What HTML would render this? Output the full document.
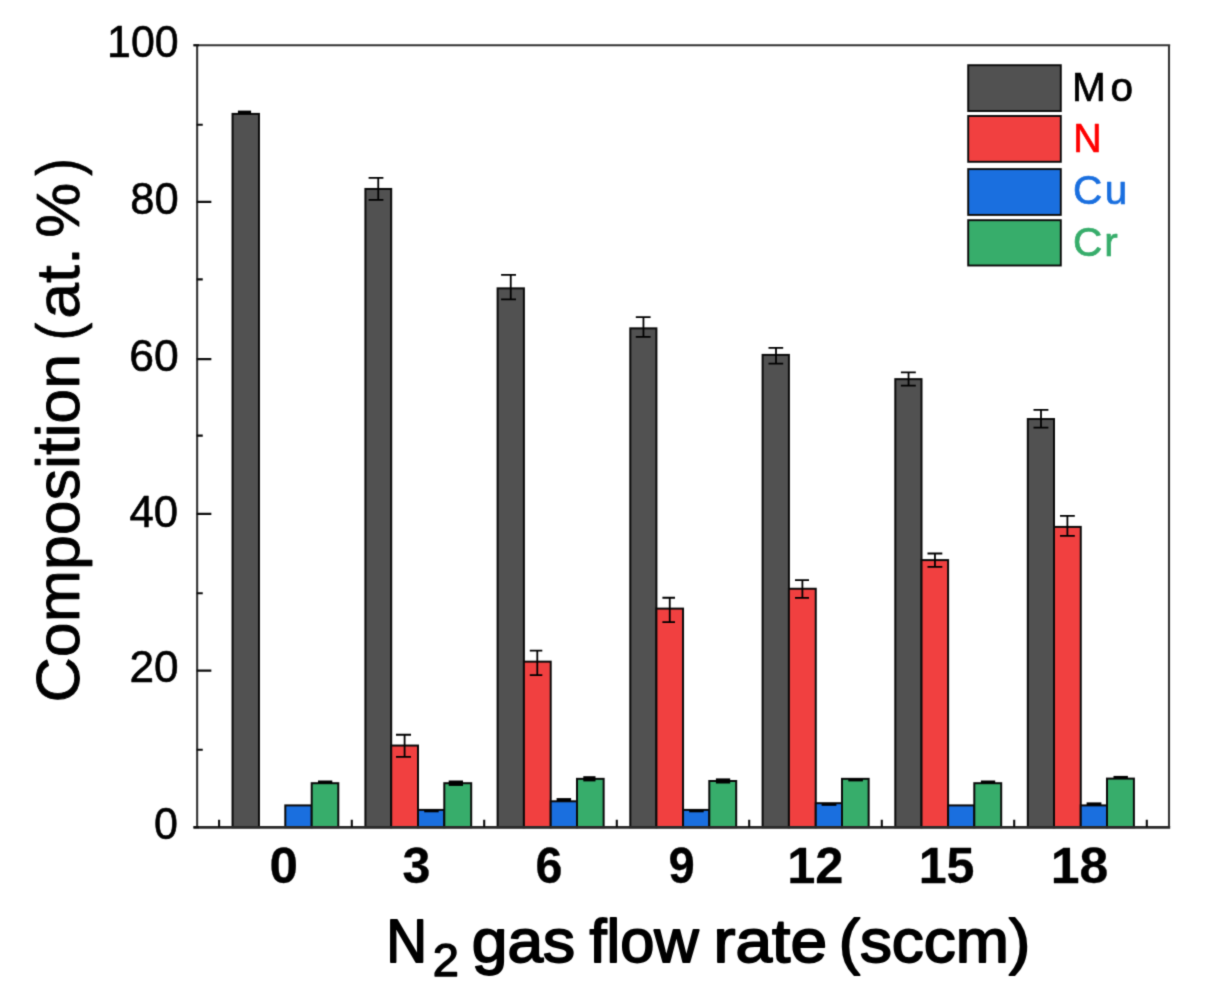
<!DOCTYPE html>
<html lang="en"><head><meta charset="utf-8"><title>Composition vs N2 gas flow rate</title>
<style>html,body{margin:0;padding:0;background:#fff}body{width:1205px;height:1003px;overflow:hidden}svg{display:block}text{font-family:"Liberation Sans",Arial,sans-serif;stroke-linejoin:round}</style></head><body>
<svg width="1205" height="1003" viewBox="0 0 1205 1003">
<defs><filter id="soft" x="0" y="0" width="1205" height="1003" filterUnits="userSpaceOnUse" color-interpolation-filters="sRGB"><feConvolveMatrix order="3" kernelMatrix="0.0225 0.1050 0.0225 0.1050 0.4900 0.1050 0.0225 0.1050 0.0225" edgeMode="none"/></filter></defs>
<rect width="1205" height="1003" fill="#fff"/>
<g id="chart" filter="url(#soft)">
<g stroke="#0a0a0a" stroke-width="2">
<rect x="232.55" y="113.90" width="26.40" height="713.30" fill="#515151"/>
<rect x="285.30" y="805.40" width="26.40" height="21.80" fill="#1A6FDF"/>
<rect x="311.70" y="783.20" width="26.60" height="44.00" fill="#37AD6B"/>
<rect x="365.40" y="188.95" width="25.80" height="638.25" fill="#515151"/>
<rect x="391.20" y="745.55" width="26.80" height="81.65" fill="#F14040"/>
<rect x="418.00" y="809.90" width="26.30" height="17.30" fill="#1A6FDF"/>
<rect x="444.30" y="783.20" width="26.90" height="44.00" fill="#37AD6B"/>
<rect x="497.60" y="288.35" width="26.30" height="538.85" fill="#515151"/>
<rect x="523.90" y="661.65" width="26.80" height="165.55" fill="#F14040"/>
<rect x="550.70" y="801.30" width="26.30" height="25.90" fill="#1A6FDF"/>
<rect x="577.00" y="778.85" width="26.65" height="48.35" fill="#37AD6B"/>
<rect x="630.30" y="328.35" width="26.10" height="498.85" fill="#515151"/>
<rect x="656.40" y="608.60" width="26.65" height="218.60" fill="#F14040"/>
<rect x="683.05" y="809.90" width="26.25" height="17.30" fill="#1A6FDF"/>
<rect x="709.30" y="781.00" width="26.90" height="46.20" fill="#37AD6B"/>
<rect x="762.60" y="354.90" width="26.30" height="472.30" fill="#515151"/>
<rect x="788.90" y="588.75" width="26.85" height="238.45" fill="#F14040"/>
<rect x="815.75" y="803.20" width="26.25" height="24.00" fill="#1A6FDF"/>
<rect x="842.00" y="778.85" width="26.65" height="48.35" fill="#37AD6B"/>
<rect x="895.30" y="379.15" width="26.20" height="448.05" fill="#515151"/>
<rect x="921.50" y="560.10" width="26.60" height="267.10" fill="#F14040"/>
<rect x="948.10" y="805.40" width="26.20" height="21.80" fill="#1A6FDF"/>
<rect x="974.30" y="783.20" width="26.90" height="44.00" fill="#37AD6B"/>
<rect x="1027.80" y="419.05" width="26.20" height="408.15" fill="#515151"/>
<rect x="1054.00" y="526.90" width="26.75" height="300.30" fill="#F14040"/>
<rect x="1080.75" y="805.40" width="26.25" height="21.80" fill="#1A6FDF"/>
<rect x="1107.00" y="778.60" width="26.90" height="48.60" fill="#37AD6B"/>
</g>
<g stroke="#000" stroke-width="1.8" fill="none">
<path d="M368.60 177.85H383.40M368.60 199.95H383.40M378.25 177.85V199.95"/>
<path d="M501.10 274.95H516.00M501.10 299.35H516.00M510.75 274.95V299.35"/>
<path d="M635.80 317.05H650.60M635.80 336.95H650.60M643.45 317.05V336.95"/>
<path d="M768.50 347.95H783.20M768.50 363.55H783.20M776.00 347.95V363.55"/>
<path d="M900.90 372.30H915.80M900.90 385.60H915.80M908.55 372.30V385.60"/>
<path d="M1033.50 409.85H1048.40M1033.50 427.55H1048.40M1041.00 409.85V427.55"/>
<path d="M396.00 734.75H411.00M396.00 756.85H411.00M404.60 734.75V756.85"/>
<path d="M529.80 650.70H542.30M529.80 675.20H542.30M537.30 650.70V675.20"/>
<path d="M662.40 597.75H675.00M662.40 622.10H675.00M669.75 597.75V622.10"/>
<path d="M795.00 580.05H809.00M795.00 597.80H809.00M802.40 580.05V597.80"/>
<path d="M927.50 553.50H942.30M927.50 566.90H942.30M934.95 553.50V566.90"/>
<path d="M1060.00 515.85H1074.80M1060.00 535.90H1074.80M1067.40 515.85V535.90"/>
</g>
<g fill="#000">
<rect x="237.90" y="110.60" width="13.20" height="3.70"/>
<rect x="424.20" y="810.10" width="14.50" height="2.20"/>
<rect x="556.60" y="798.10" width="14.50" height="3.00"/>
<rect x="689.20" y="810.10" width="14.50" height="2.20"/>
<rect x="821.60" y="803.40" width="14.80" height="2.40"/>
<rect x="1086.60" y="802.40" width="14.80" height="2.80"/>
<rect x="318.00" y="780.50" width="14.30" height="2.80"/>
<rect x="448.70" y="780.50" width="14.30" height="5.40"/>
<rect x="583.30" y="776.20" width="12.20" height="5.20"/>
<rect x="715.90" y="778.40" width="14.30" height="5.10"/>
<rect x="848.30" y="779.00" width="14.60" height="2.40"/>
<rect x="980.90" y="780.50" width="14.30" height="2.80"/>
<rect x="1113.50" y="775.90" width="14.40" height="2.80"/>
</g>
<g stroke="#333" stroke-width="2.1" fill="none">
<path d="M193.5 45.20H1170.2M197.15 45.20V827.20M1169.00 45.20V827.20"/>
<path stroke="#2a2a2a" stroke-width="2.7" d="M193.5 827.30H1170.2"/>
</g>
<g stroke="#0c0c0c" stroke-width="2.1" fill="none">
<path d="M193.5 45.20H199M193.5 827.20H199M196.65 124.70h6.1M196.65 201.90h14.7M196.65 279.35h6.1M196.65 359.10h14.7M196.65 435.60h6.1M196.65 513.90h14.7M196.65 593.20h6.1M196.65 670.60h14.7M196.65 749.80h6.1"/>
<path d="M219.10 827.20v-7.4M351.80 827.20v-7.4M484.20 827.20v-7.4M616.80 827.20v-7.4M749.20 827.20v-7.4M881.80 827.20v-7.4M1014.20 827.20v-7.4M1146.80 827.20v-7.4"/>
</g>
<g stroke="#0a0a0a" stroke-width="1.9">
<rect x="968.2" y="65.2" width="92.6" height="45.8" fill="#515151"/>
<rect x="968.2" y="116.0" width="92.6" height="45.8" fill="#F14040"/>
<rect x="968.2" y="169.1" width="92.6" height="45.8" fill="#1A6FDF"/>
<rect x="968.2" y="220.2" width="92.6" height="45.3" fill="#37AD6B"/>
</g>
<text transform="translate(107.08,56.60) scale(0.9747,1)" font-size="44" fill="#000" stroke="#000" stroke-width="0.60">100</text>
<text transform="translate(130.21,214.00) scale(0.9899,1)" font-size="44" fill="#000" stroke="#000" stroke-width="0.60">80</text>
<text transform="translate(129.18,370.60) scale(1.0116,1)" font-size="44" fill="#000" stroke="#000" stroke-width="0.60">60</text>
<text transform="translate(129.51,527.20) scale(0.9942,1)" font-size="44" fill="#000" stroke="#000" stroke-width="0.60">40</text>
<text transform="translate(129.49,682.20) scale(1.0050,1)" font-size="44" fill="#000" stroke="#000" stroke-width="0.60">20</text>
<text transform="translate(154.12,838.90) scale(0.9773,1)" font-size="44" fill="#000" stroke="#000" stroke-width="0.60">0</text>
<text transform="translate(269.43,883.00) scale(1.0240,1)" font-size="50" font-weight="bold" fill="#000" stroke="#000" stroke-width="0.30">0</text>
<text transform="translate(402.45,883.00) scale(1.0040,1)" font-size="50" font-weight="bold" fill="#000" stroke="#000" stroke-width="0.30">3</text>
<text transform="translate(535.48,883.00) scale(0.9680,1)" font-size="50" font-weight="bold" fill="#000" stroke="#000" stroke-width="0.30">6</text>
<text transform="translate(668.41,883.00) scale(0.9440,1)" font-size="50" font-weight="bold" fill="#000" stroke="#000" stroke-width="0.30">9</text>
<text transform="translate(787.22,883.00) scale(1.0117,1)" font-size="50" font-weight="bold" fill="#000" stroke="#000" stroke-width="0.30">12</text>
<text transform="translate(918.64,883.00) scale(1.0037,1)" font-size="50" font-weight="bold" fill="#000" stroke="#000" stroke-width="0.30">15</text>
<text transform="translate(1050.65,883.00) scale(1.0346,1)" font-size="50" font-weight="bold" fill="#000" stroke="#000" stroke-width="0.30">18</text>
<text transform="translate(1071.95,101.00) scale(1.0000,1)" font-size="40.5" letter-spacing="4.86" fill="#000" stroke="#000" stroke-width="0.70">Mo</text>
<text transform="translate(1073.24,152.00) scale(0.9696,1)" font-size="40.5" fill="#FF0000" stroke="#FF0000" stroke-width="0.70">N</text>
<text transform="translate(1072.95,204.30) scale(1.0000,1)" font-size="40.5" letter-spacing="2.45" fill="#1A6FDF" stroke="#1A6FDF" stroke-width="0.70">Cu</text>
<text transform="translate(1072.95,255.50) scale(1.0000,1)" font-size="40.5" letter-spacing="1.95" fill="#37AD6B" stroke="#37AD6B" stroke-width="0.70">Cr</text>
<text transform="translate(386.16,962.20) scale(0.9286,1)" font-size="61" fill="#000" stroke="#000" stroke-width="1.80">N</text><text transform="translate(432.75,976.00) scale(1.0227,1)" font-size="46" fill="#000" stroke="#000" stroke-width="1.40">2</text>
<text transform="translate(471.70,962.20) scale(1.0522,1)" font-size="61" fill="#000" stroke="#000" stroke-width="1.80">gas</text>
<text transform="translate(589.50,962.20) scale(1.0071,1)" font-size="61" fill="#000" stroke="#000" stroke-width="1.80">flow</text>
<text transform="translate(713.48,962.20) scale(1.0808,1)" font-size="61" fill="#000" stroke="#000" stroke-width="1.80">rate</text>
<text transform="translate(838.66,962.20) scale(1.0468,1)" font-size="61" fill="#000" stroke="#000" stroke-width="1.80">(sccm)</text>
<text transform="translate(79.00,702.49) rotate(-90) scale(1.0118,1)" font-size="62" fill="#000" stroke="#000" stroke-width="0.90">Composition</text>
<text transform="translate(79.00,340.43) rotate(-90) scale(0.8611,1)" font-size="62" fill="#000" stroke="#000" stroke-width="0.70">(</text><text transform="translate(79.00,318.73) rotate(-90) scale(1.0388,1)" font-size="62" fill="#000" stroke="#000" stroke-width="0.70">at.</text>
<text transform="translate(79.00,237.65) rotate(-90) scale(0.9980,1)" font-size="62" fill="#000" stroke="#000" stroke-width="0.70">%</text><text transform="translate(79.00,175.85) rotate(-90) scale(0.8412,1)" font-size="62" fill="#000" stroke="#000" stroke-width="0.70">)</text>
</g></svg></body></html>
